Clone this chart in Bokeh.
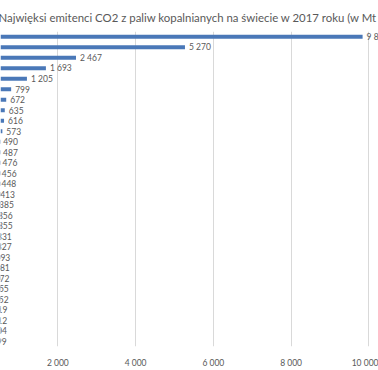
from bokeh.plotting import figure
from bokeh.models import Range1d, FactorRange, FixedTicker, ColumnDataSource
from bokeh.core.properties import value
from bokeh.embed import file_html
from bokeh.resources import INLINE

countries = ["Chiny", "USA", "Indie", "Rosja", "Japonia", "Niemcy", "Iran",
             "Arabia Saudyjska", "Korea Południowa", "Kanada", "Meksyk",
             "Indonezja", "Brazylia", "RPA", "Turcja", "Australia",
             "Wielka Brytania", "Włochy", "Francja", "Polska", "Tajlandia",
             "Tajwan", "Hiszpania", "Kazachstan", "Malezja", "Egipt",
             "ZEA", "Wietnam", "Ukraina", "Argentyna"]
emissions = [9839, 5270, 2467, 1693, 1205, 799, 672, 635, 616, 573, 490,
             487, 476, 456, 448, 413, 385, 356, 355, 331, 327, 293, 281,
             272, 255, 252, 219, 212, 204, 199]
tick_values = [2000, 4000, 6000, 8000, 10000]
tick_labels = ["2 000", "4 000", "6 000", "8 000", "10 000"]
title_text = "Najwięksi emitenci CO2 z paliw kopalnianych na świecie w 2017 roku (w Mt CO2)"

labels = [f"{v:,}".replace(",", " ") for v in emissions]
src = ColumnDataSource(dict(country=countries, val=emissions, lab=labels))

FONT = "Lato"
GRAY = "#595959"

p = figure(width=378, height=370, output_backend="svg", toolbar_location=None,
           y_range=FactorRange(factors=list(reversed(countries)), range_padding=0),
           x_range=Range1d(525, 10248), title=title_text,
           min_border_left=0, min_border_right=0, min_border_top=0,
           min_border_bottom=0)
p.styles = {"position": "absolute", "left": "0px", "top": "0px"}
p.outline_line_color = None

p.title.text_font = FONT
p.title.text_font_size = "11.4px"
p.title.text_font_style = "normal"
p.title.text_color = GRAY
p.title.align = "left"
p.title.offset = -2
p.title.standoff = 16

p.hbar(y="country", right="val", left=0, height=0.38, source=src,
       fill_color="#4a78b8", line_color=None)
p.text(x="val", y="country", text="lab", source=src, x_offset=4,
       text_font=value(FONT), text_font_size="8.5px", text_color=GRAY,
       text_baseline="middle", text_align="left")

p.yaxis.visible = False
p.ygrid.grid_line_color = None
p.xgrid.grid_line_color = "#d9d9d9"
p.xaxis.ticker = FixedTicker(ticks=tick_values)
p.xaxis.major_label_overrides = dict(zip(tick_values, tick_labels))
p.xaxis.axis_line_color = None
p.xaxis.major_tick_line_color = None
p.xaxis.minor_tick_line_color = None
p.xaxis.major_label_text_font = FONT
p.xaxis.major_label_text_font_size = "8.5px"
p.xaxis.major_label_text_color = GRAY
p.xaxis.major_label_standoff = 5

open("out.html", "w").write(file_html(p, INLINE))
